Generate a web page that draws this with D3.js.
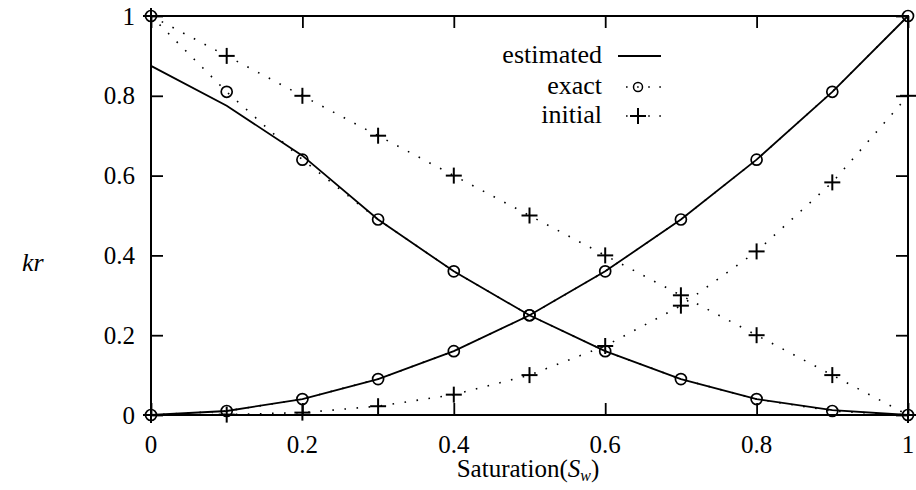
<!DOCTYPE html>
<html>
<head>
<meta charset="utf-8">
<script src="https://cdn.jsdelivr.net/npm/d3@7"></script>
</head>
<body style="margin:0">
<svg id="chart" width="916" height="490"></svg>
<script>
// Water saturation samples
const saturation = [0, 0.1, 0.2, 0.3, 0.4, 0.5, 0.6, 0.7, 0.8, 0.9, 1.0];

// Relative permeability curves: wetting (w) and non-wetting (n) phases
const krwEstimated = [0, 0.01, 0.04, 0.09, 0.16, 0.25, 0.36, 0.49, 0.64, 0.81, 1.0];
const krnEstimated = [0.875, 0.775, 0.65, 0.49, 0.36, 0.25, 0.16, 0.09, 0.04, 0.012, 0.0];
const krwExact = [0, 0.01, 0.04, 0.09, 0.16, 0.25, 0.36, 0.49, 0.64, 0.81, 1.0];
const krnExact = [1.0, 0.81, 0.64, 0.49, 0.36, 0.25, 0.16, 0.09, 0.04, 0.01, 0.0];
const krwInitial = [0, 0.001, 0.006, 0.022, 0.051, 0.1, 0.173, 0.274, 0.41, 0.583, 0.8];
const krnInitial = [1.0, 0.9, 0.8, 0.7, 0.6, 0.5, 0.4, 0.3, 0.2, 0.1, 0.0];

const xTicks = [0, 0.2, 0.4, 0.6, 0.8, 1];
const yTicks = [0, 0.2, 0.4, 0.6, 0.8, 1];
const xTickLabels = ["0", "0.2", "0.4", "0.6", "0.8", "1"];
const yTickLabels = ["0", "0.2", "0.4", "0.6", "0.8", "1"];
const legendLabels = ["estimated", "exact", "initial"];

const fontFamily = "Liberation Serif";
const svg = d3.select("#chart");
svg.append("rect").attr("width", 916).attr("height", 490).attr("fill", "#fff");

const plotLeft = 151, plotRight = 908, plotTop = 16, plotBottom = 415;
const x = d3.scaleLinear().domain([0, 1]).range([plotLeft, plotRight]);
const y = d3.scaleLinear().domain([0, 1]).range([plotBottom, plotTop]);

const tickLen = 12;
const fontTick = 25;

// Inward ticks on all four sides (lines only; labels drawn below)
svg.append("g").attr("transform", `translate(0,${plotBottom})`)
  .call(d3.axisBottom(x).tickValues(xTicks).tickSize(-tickLen).tickFormat(""));
svg.append("g").attr("transform", `translate(${plotLeft},0)`)
  .call(d3.axisLeft(y).tickValues(yTicks).tickSize(-tickLen).tickFormat(""));
svg.append("g").attr("transform", `translate(0,${plotTop})`)
  .call(d3.axisTop(x).tickValues(xTicks).tickSize(-tickLen).tickFormat(""));
svg.append("g").attr("transform", `translate(${plotRight},0)`)
  .call(d3.axisRight(y).tickValues(yTicks).tickSize(-tickLen).tickFormat(""));

svg.selectAll(".domain").remove();
svg.selectAll(".tick text").remove();
svg.selectAll(".tick line").attr("stroke", "#000").attr("stroke-width", 1.8);

// Tick labels
xTicks.forEach((v, i) => {
  svg.append("text").attr("x", x(v)).attr("y", 453)
    .attr("text-anchor", "middle")
    .attr("font-family", fontFamily).attr("font-size", fontTick)
    .text(xTickLabels[i]);
});
yTicks.forEach((v, i) => {
  svg.append("text").attr("x", plotLeft - 16).attr("y", y(v) + 8.5)
    .attr("text-anchor", "end")
    .attr("font-family", fontFamily).attr("font-size", fontTick)
    .text(yTickLabels[i]);
});

// Frame
svg.append("rect")
  .attr("x", plotLeft).attr("y", plotTop)
  .attr("width", plotRight - plotLeft).attr("height", plotBottom - plotTop)
  .attr("fill", "none").attr("stroke", "#000").attr("stroke-width", 2);

const line = d3.line().x(d => x(d[0])).y(d => y(d[1]));
const pairs = vals => saturation.map((s, i) => [s, vals[i]]);
const dotted = "1.6,10.5";

// Dotted curves (exact, initial)
[krwInitial, krnInitial, krwExact, krnExact].forEach(vals => {
  svg.append("path").datum(pairs(vals))
    .attr("d", line).attr("fill", "none")
    .attr("stroke", "#000").attr("stroke-width", 1.6)
    .attr("stroke-dasharray", dotted);
});

// Estimated curves
[krwEstimated, krnEstimated].forEach(vals => {
  svg.append("path").datum(pairs(vals))
    .attr("d", line).attr("fill", "none")
    .attr("stroke", "#000").attr("stroke-width", 1.8);
});

// Markers
const circleR = 5.5, plusH = 8;
function drawPlus(g, cx, cy, h) {
  g.append("line").attr("x1", cx - h).attr("x2", cx + h).attr("y1", cy).attr("y2", cy)
    .attr("stroke", "#000").attr("stroke-width", 2);
  g.append("line").attr("x1", cx).attr("x2", cx).attr("y1", cy - h).attr("y2", cy + h)
    .attr("stroke", "#000").attr("stroke-width", 2);
}
[krwExact, krnExact].forEach(vals => {
  svg.append("g").selectAll("circle").data(pairs(vals)).join("circle")
    .attr("cx", d => x(d[0])).attr("cy", d => y(d[1])).attr("r", circleR)
    .attr("fill", "none").attr("stroke", "#000").attr("stroke-width", 1.7);
});
[krwInitial, krnInitial].forEach(vals => {
  const g = svg.append("g");
  pairs(vals).forEach(d => drawPlus(g, x(d[0]), y(d[1]), plusH));
});

// Legend
const legendFont = 26;
const legendRows = [63, 94, 123];
legendLabels.forEach((t, i) => {
  svg.append("text").attr("x", 602).attr("y", legendRows[i])
    .attr("text-anchor", "end")
    .attr("font-family", fontFamily).attr("font-size", legendFont)
    .text(t);
});
const ly = legendRows.map(b => b - 7);
svg.append("line").attr("x1", 618).attr("x2", 661).attr("y1", ly[0]).attr("y2", ly[0])
  .attr("stroke", "#000").attr("stroke-width", 1.8);
[1, 2].forEach(i => {
  svg.append("line").attr("x1", 626).attr("x2", 662).attr("y1", ly[i]).attr("y2", ly[i])
    .attr("stroke", "#000").attr("stroke-width", 1.6).attr("stroke-dasharray", "1.6,9.5");
});
svg.append("circle").attr("cx", 638).attr("cy", ly[1]).attr("r", 4.5)
  .attr("fill", "none").attr("stroke", "#000").attr("stroke-width", 1.5);
drawPlus(svg, 638, ly[2], 8);

// Axis titles
svg.append("text").attr("x", 22).attr("y", 271)
  .attr("font-family", fontFamily).attr("font-size", 26)
  .attr("font-style", "italic")
  .text("kr");

const xt = svg.append("text").attr("x", 528).attr("y", 477)
  .attr("text-anchor", "middle")
  .attr("font-family", fontFamily).attr("font-size", 25);
xt.append("tspan").text("Saturation(");
xt.append("tspan").attr("font-style", "italic").text("S");
xt.append("tspan").attr("font-style", "italic").attr("font-size", 16)
  .attr("dy", 4).text("w");
xt.append("tspan").attr("dy", -4).text(")");
</script>
</body>
</html>
